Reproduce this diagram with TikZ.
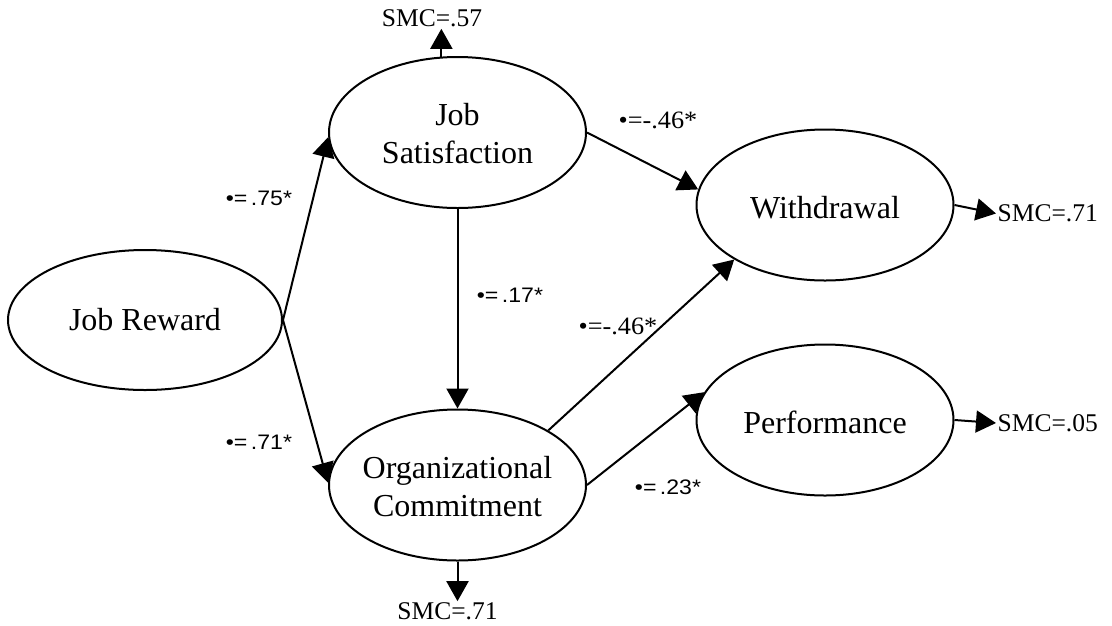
\documentclass[tikz,border=0pt]{standalone}
\usepackage{fontspec}
\setmainfont{Liberation Serif}
\newfontfamily\coefsans[FakeStretch=1.1]{Liberation Sans}
\newfontfamily\coefserif[FakeStretch=1.05]{Liberation Serif}
\usetikzlibrary{shapes.geometric,arrows.meta}

\begin{document}
\begin{tikzpicture}[x=1pt,y=-1pt,
  latent/.style={ellipse,draw,line width=2pt,minimum width=257pt,minimum height=151pt,inner sep=0pt},
  caption/.style={font=\fontsize{32}{38}\selectfont,align=center,inner sep=0pt},
  smc/.style={font=\fontsize{25.5}{30}\selectfont,inner sep=1.5pt},
  effect/.style={line width=2pt,-{Triangle[length=20pt,width=22pt]}},
  coefA/.style={font=\coefsans\fontsize{21}{24}\selectfont,inner sep=0pt},
  coefB/.style={font=\coefserif\fontsize{25}{28}\selectfont,inner sep=0pt}]

\useasboundingbox (0,0) rectangle (1112,625);

% latent constructs
\node[latent,minimum width=274pt,minimum height=140pt] (jr) at (145,320) {};
\node[caption] (jrt) at (jr) {Job Reward};
\node[latent] (js) at (457.5,132.5) {};
\node[caption] (jst) at (457.5,134) {Job\\Satisfaction};
\node[latent] (oc) at (457.5,485) {};
\node[caption] (oct) at (457.5,487) {Organizational\\Commitment};
\node[latent] (w) at (825,205) {};
\node[caption] (wt) at (825,208) {Withdrawal};
\node[latent] (p) at (825,420) {};
\node[caption] (pt) at (825,422) {Performance};

% squared multiple correlations
\node[smc] (smca) at (432,18.5) {SMC=.57};
\node[smc] (smcb) at (447.5,611.5) {SMC=.71};
\node[smc,anchor=west] (smcw) at (996,213.5) {SMC=.71};
\node[smc,anchor=west] (smcp) at (996,423) {SMC=.05};

% structural paths
\draw[effect] (jr.east) -- (js.182);
\draw[effect] (jr.east) -- (oc.179);
\draw[effect] (js.south) -- (oc.north);
\draw[effect] (js.east) -- (w.173);
\draw[effect] (oc.31) -- (w.211);
\draw[effect] (oc.east) -- (p.167);
\draw[effect] (w.east) -- (smcw.west);
\draw[effect] (p.east) -- (smcp.west);
\draw[effect] (js.102) -- (js.102 |- smca.south);
\draw[effect] (oc.south) -- (oc.south |- smcb.north);

% path coefficients
\node[coefA] (b1) at (259,198) {•=\,.75*};
\node[coefA] (b2) at (259,442) {•=\,.71*};
\node[coefA] (b3) at (510,295) {•=\,.17*};
\node[coefB] (b4) at (658,120) {•=-.46*};
\node[coefB] (b5) at (618,326) {•=-.46*};
\node[coefA] (b6) at (668,487) {•=\,.23*};
\end{tikzpicture}
\end{document}
